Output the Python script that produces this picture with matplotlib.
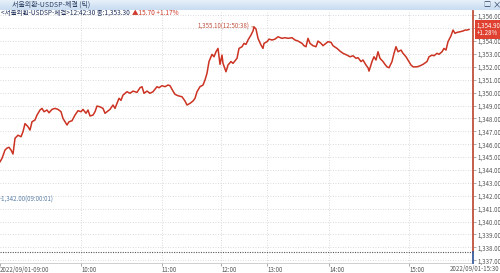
#tick chart of USD/KRW spot (Seoul FX), 2022/09/01, one session
import numpy as np
import matplotlib.pyplot as plt
from matplotlib import font_manager
from matplotlib.transforms import blended_transform_factory

plt.rcParams['font.family'] = ['Noto Sans CJK KR', 'DejaVu Sans']
names = set(f.name for f in font_manager.fontManager.ttflist)
num_font = 'Liberation Sans Narrow' if 'Liberation Sans Narrow' in names else 'Noto Sans CJK KR'

#tick index (x) and traded price
tick_x = [0, 2, 5, 7, 9, 11, 13, 15, 18, 21, 23, 25, 28, 30, 32, 35, 37, 40, 42, 44,
          47, 49, 52, 55, 58, 61, 63, 67, 69, 72, 75, 78, 81, 83, 86, 88, 90, 93, 95, 97,
          100, 103, 105, 107, 110, 113, 115, 117, 119, 121, 123, 127, 130, 133, 137, 140, 142, 144, 147, 150,
          153, 157, 159, 162, 165, 168, 170, 173, 175, 178, 182, 185, 187, 190, 193, 195, 197, 200, 203, 205,
          207, 209, 212, 214, 216, 218, 220, 222, 223, 226, 228, 231, 233, 237, 239, 242, 244, 246, 248, 251,
          253, 254, 256, 258, 261, 263, 264, 267, 269, 272, 275, 278, 282, 285, 288, 292, 295, 298, 302, 304,
          306, 308, 310, 313, 316, 318, 321, 323, 326, 328, 331, 333, 337, 340, 343, 347, 350, 353, 356, 358,
          361, 363, 366, 368, 369, 372, 374, 376, 378, 380, 383, 385, 387, 389, 392, 394, 396, 398, 401, 403,
          406, 408, 411, 413, 417, 420, 423, 427, 429, 432, 434, 437, 439, 442, 444, 446, 448, 451, 453, 455,
          457, 460, 463, 465, 467, 469]
price = [1344.64, 1344.90, 1345.55, 1345.70, 1345.76, 1345.55, 1345.24, 1346.46, 1346.70, 1346.58,
         1346.97, 1347.60, 1347.36, 1347.10, 1347.74, 1347.88, 1348.26, 1348.65, 1348.78, 1348.52,
         1348.65, 1348.44, 1348.70, 1348.78, 1348.70, 1348.52, 1348.00, 1347.49, 1347.74, 1347.82,
         1348.26, 1348.60, 1348.52, 1348.70, 1348.40, 1348.65, 1348.19, 1348.26, 1348.52, 1348.96,
         1348.90, 1348.78, 1348.40, 1348.52, 1348.70, 1349.04, 1348.78, 1349.17, 1349.56, 1349.40,
         1349.81, 1350.07, 1349.95, 1350.12, 1350.02, 1350.38, 1350.46, 1349.95, 1350.12, 1349.95,
         1350.07, 1350.46, 1350.38, 1350.54, 1350.46, 1350.59, 1350.54, 1350.12, 1349.87, 1349.76,
         1349.68, 1349.35, 1349.04, 1349.17, 1349.35, 1349.56, 1350.07, 1350.46, 1350.59, 1350.98,
         1351.50, 1352.41, 1352.97, 1352.78, 1353.17, 1353.43, 1352.19, 1352.91, 1352.27, 1351.62,
         1352.14, 1352.41, 1352.27, 1352.66, 1353.43, 1353.56, 1353.82, 1353.74, 1354.08, 1354.47,
         1354.78, 1355.10, 1354.93, 1354.21, 1353.69, 1353.43, 1353.82, 1353.95, 1354.15, 1354.08,
         1354.15, 1354.33, 1354.21, 1354.26, 1354.21, 1354.26, 1354.08, 1354.00, 1353.82, 1353.64,
         1353.56, 1354.21, 1353.82, 1353.64, 1353.56, 1354.00, 1353.82, 1353.64, 1353.82, 1353.95,
         1353.90, 1353.64, 1353.43, 1353.22, 1353.05, 1352.91, 1352.78, 1352.86, 1352.66, 1352.71,
         1352.41, 1352.53, 1352.14, 1351.93, 1351.67, 1352.41, 1352.78, 1352.53, 1353.17, 1352.66,
         1352.41, 1352.19, 1352.00, 1351.93, 1352.41, 1353.05, 1353.56, 1353.17, 1353.30, 1353.05,
         1352.78, 1352.53, 1352.14, 1352.00, 1352.00, 1352.08, 1352.19, 1352.41, 1352.78, 1352.91,
         1352.86, 1353.05, 1352.97, 1353.17, 1353.43, 1353.30, 1353.95, 1354.41, 1354.85, 1354.60,
         1354.67, 1354.72, 1354.78, 1354.85, 1354.85, 1354.90]

time_ticks = [0, 81, 162, 221, 267, 329, 409]
time_labels = ['2022/09/01-09:00', '10:00', '11:00', '12:00', '13:00', '14:00', '15:00']
end_label = '2022/09/01-15:30'
y_levels = list(range(1337, 1357))

high_val, high_x, high_txt = 1355.10, 254, '1,355.10(12:50:38)'
low_val, low_txt = 1342.00, '-1,342.00(09:00:01)'
last_val, last_pct = 1354.90, '+1.28%'
base_val = 1337.64

W, H = 500, 273
fig = plt.figure(figsize=(W / 100, H / 100), dpi=100)
ax = fig.add_axes([0, 1 - 263 / H, 473 / W, 252 / H])

red = '#cc3322'
fs = 4.4
# grid
for lv in y_levels:
    ax.axhline(lv, color='#cfcfcf', lw=0.6, ls=(0, (1, 2)), zorder=0)
for t in time_ticks[1:]:
    ax.axvline(t, color='#cfcfcf', lw=0.6, ls=(0, (1, 2)), zorder=0)
ax.axhline(base_val, color='#555555', lw=0.8, ls=(0, (1, 1.2)), zorder=1)

ax.plot(tick_x, price, color=red, lw=1.1, zorder=3)

ax.set_xlim(0, 473)
ax.set_ylim(1336.79, 1356.33)

# right axis: red above the base line, blue below
for s in ['top', 'left', 'right']:
    ax.spines[s].set_visible(False)
ax.spines['bottom'].set_color('#c8c8c8')
ax.spines['bottom'].set_linewidth(0.6)
ax.plot([473, 473], [base_val, 1356.33], color='#c0503c', lw=1.3, clip_on=False, zorder=4)
ax.plot([473, 473], [1336.79, base_val], color='#3a5d9c', lw=1.3, clip_on=False, zorder=4)

# the 1,355.00 label sits under the last-price box, so leave it blank
ylabs = ['' if abs(v - last_val) < 0.5 else '{:,.2f}'.format(v) for v in y_levels]
ax.yaxis.tick_right()
ax.set_yticks(y_levels)
ax.set_yticklabels(ylabs, fontfamily=num_font)
ax.tick_params(axis='y', length=2, width=0.5, color='#888888', labelsize=fs,
               labelcolor='#555555', pad=1)

ax.set_xticks(time_ticks)
ax.set_xticklabels(time_labels, fontfamily=num_font)
ax.tick_params(axis='x', length=2, width=0.5, color='#888888', labelsize=fs,
               labelcolor='#555555', pad=0.5)
for lab in ax.get_xticklabels():
    lab.set_horizontalalignment('left')
ax.text(499 / 473, -0.008, end_label, transform=ax.transAxes, ha='right', va='top',
        fontsize=fs, color='#555555', family=num_font, clip_on=False)

# high / low marks
ax.annotate(high_txt, xy=(high_x, high_val), xytext=(249, high_val), ha='right', va='center',
            fontsize=fs, color='#c0503c', family=num_font,
            arrowprops=dict(arrowstyle='-', color='#c0503c', lw=0.6, shrinkA=0, shrinkB=0))
ax.text(0, low_val - 0.3, low_txt, ha='left', va='center', fontsize=fs, color='#5b7fa6',
        family=num_font)

# last price box
trans = blended_transform_factory(ax.transAxes, ax.transData)
ax.text(1.008, last_val, '{:,.2f}\n{}'.format(last_val, last_pct), transform=trans,
        ha='left', va='center', fontsize=fs, color='white', linespacing=0.95, clip_on=False,
        family=num_font, bbox=dict(boxstyle='square,pad=0.25', fc='#e0402f', ec='none'), zorder=6)

# window title bar
tb = fig.add_axes([0, 1 - 10 / H, 1, 10 / H])
grad = np.linspace(0, 1, 20).reshape(-1, 1)
tb.imshow(grad, aspect='auto', cmap=plt.matplotlib.colors.LinearSegmentedColormap.from_list(
    'tb', ['#e6f0fa', '#c9dcf0']), extent=[0, 1, 0, 1])
tb.set_xlim(0, 1)
tb.set_ylim(0, 1)
tb.axis('off')
tb.text(12 / W, 0.5, '서울외환-USDSP-체결 (틱)', fontsize=5, color='#2b3f63', va='center')
tb.text(483 / W, 0.5, '□', fontsize=5, color='#2b3f63', va='center')
tb.text(493 / W, 0.5, '×', fontsize=6, color='#2b3f63', va='center')

# info line, red change part placed right after the navy part
info = fig.text(1 / W, 1 - 13 / H, '<서울외환-USDSP-체결>12:42:30 종:1,353.30', fontsize=4.7,
                color='#20305a', va='center')
fig.canvas.draw()
bb = info.get_window_extent().transformed(fig.transFigure.inverted())
fig.text(bb.x1 + 2 / W, 1 - 13 / H, '▲15.70 +1.17%', fontsize=4.7, color='#d03a2a', va='center')

plt.savefig('out.png', dpi=100)
